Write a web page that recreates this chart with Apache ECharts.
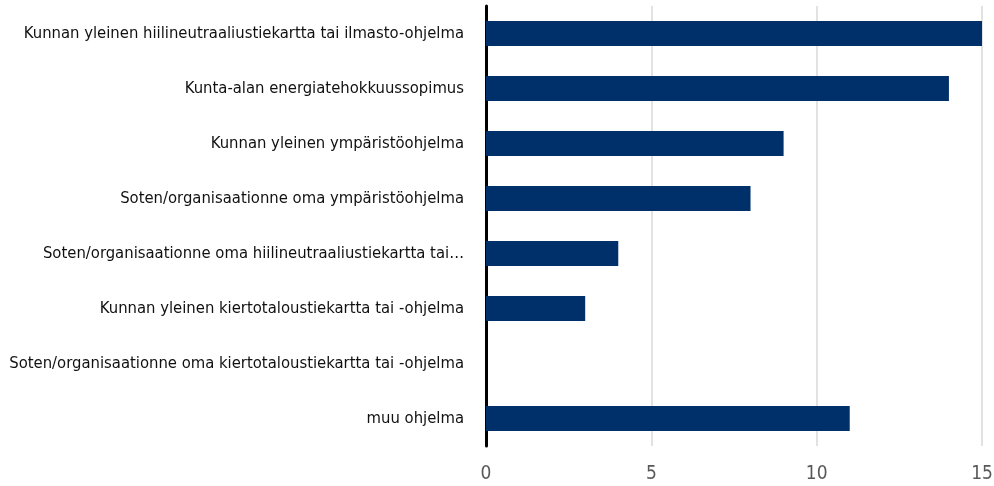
<!DOCTYPE html>
<html><head><meta charset="utf-8">
<script src="https://cdn.jsdelivr.net/npm/echarts@6/dist/echarts.min.js"></script>
<style>html,body{margin:0;padding:0;background:#fff}#c{width:994px;height:486px}</style>
</head><body><div id="c"></div>
<script>
const categories = [
  "Kunnan yleinen hiilineutraaliustiekartta tai ilmasto-ohjelma",
  "Kunta-alan energiatehokkuussopimus",
  "Kunnan yleinen ympäristöohjelma",
  "Soten/organisaationne oma ympäristöohjelma",
  "Soten/organisaationne oma hiilineutraaliustiekartta tai…",
  "Kunnan yleinen kiertotaloustiekartta tai -ohjelma",
  "Soten/organisaationne oma kiertotaloustiekartta tai -ohjelma",
  "muu ohjelma"
];
const values = [15, 14, 9, 8, 4, 3, 0, 11];
const xTicks = [0, 5, 10, 15];

const FONT = "'DejaVu Sans Condensed', 'Liberation Sans Narrow', sans-serif";
const chart = echarts.init(document.getElementById('c'), null, {renderer: 'canvas'});
chart.setOption({
  animation: false,
  backgroundColor: '#fff',
  grid: {left: 486, right: 12, top: 6, bottom: 40, containLabel: false, outerBoundsMode: 'none'},
  xAxis: {
    type: 'value', min: xTicks[0], max: xTicks[xTicks.length - 1], interval: 5,
    axisLine: {show: false}, axisTick: {show: false},
    splitLine: {show: true, lineStyle: {color: '#d9d9d9', width: 1.5}},
    axisLabel: {color: '#595959', fontFamily: FONT, fontSize: 19, margin: 19}
  },
  yAxis: {
    type: 'category', data: categories, inverse: true,
    axisLine: {show: true, lineStyle: {color: '#000', width: 3}},
    axisTick: {show: false},
    axisLabel: {color: '#111', fontFamily: FONT, fontSize: 16.5, margin: 22}
  },
  series: [{
    type: 'bar', data: values, barWidth: 25,
    itemStyle: {color: '#00306a'}
  }]
});
</script></body></html>
